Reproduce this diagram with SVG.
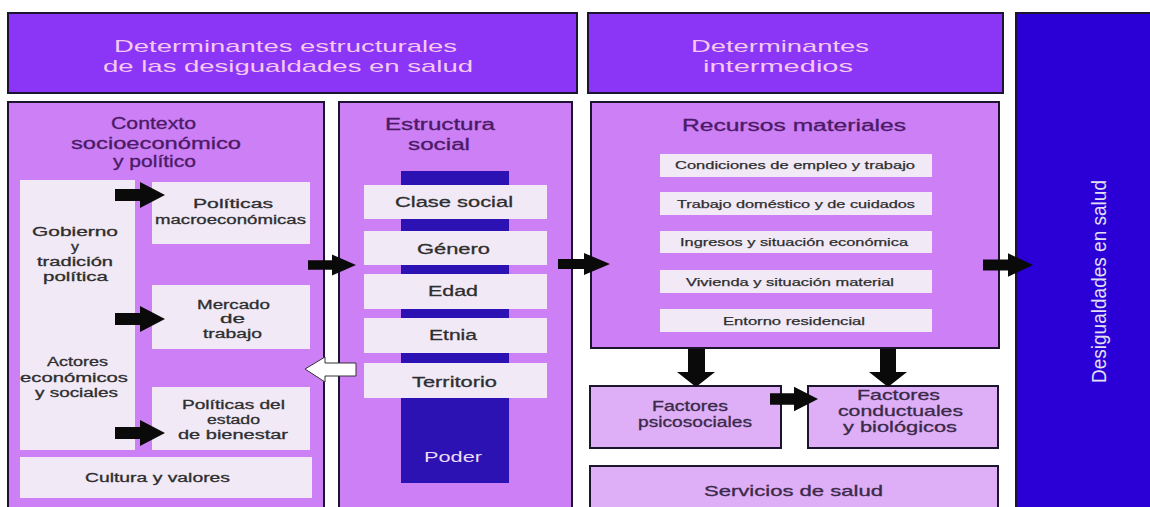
<svg xmlns="http://www.w3.org/2000/svg" width="1150" height="507" viewBox="0 0 1150 507">
<style>
text{font-family:"Liberation Sans",Arial,sans-serif;}
.hdr{fill:#8b36f6;stroke:#1c1530;stroke-width:2;}
.hdrt{fill:#f4c8ef;font-size:17px;}
.panel{fill:#cd7ff6;stroke:#1c1530;stroke-width:2;}
.light{fill:#f1e9f6;}
.sub{fill:#deaef7;stroke:#1c1530;stroke-width:2;}
.ttl{fill:#4a1a66;stroke:#4a1a66;stroke-width:0.3px;font-size:16px;}
.sm{fill:#2e2e2e;stroke:#2e2e2e;stroke-width:0.3px;font-size:12.5px;}
.md{fill:#2e2e2e;stroke:#2e2e2e;stroke-width:0.3px;font-size:15.5px;}
.rs{fill:#2e2e2e;stroke:#2e2e2e;stroke-width:0.25px;font-size:11.5px;}
.fc{fill:#3a2a48;stroke:#3a2a48;stroke-width:0.3px;font-size:14.5px;}
.arr{fill:#0a0a0a;}
</style>
<defs>
<polygon id="ra" points="0,-6 25,-6 25,-13 50,0 25,13 25,6 0,6"/>
</defs>
<rect x="0" y="0" width="1150" height="507" fill="#ffffff"/>

<g id="header-estructurales">
<rect class="hdr" x="8" y="13" width="569" height="80"/>
<text class="hdrt" x="114" y="52" textLength="343" lengthAdjust="spacingAndGlyphs">Determinantes estructurales</text>
<text class="hdrt" x="103" y="72" textLength="370" lengthAdjust="spacingAndGlyphs">de las desigualdades en salud</text>
</g>

<g id="header-intermedios">
<rect class="hdr" x="588" y="13" width="415" height="80"/>
<text class="hdrt" x="691" y="52" textLength="178" lengthAdjust="spacingAndGlyphs">Determinantes</text>
<text class="hdrt" x="703" y="72" textLength="150" lengthAdjust="spacingAndGlyphs">intermedios</text>
</g>

<g id="desigualdades">
<rect x="1016" y="13" width="140" height="500" fill="#2a00d6" stroke="#1c1530" stroke-width="2"/>
<text transform="translate(1106,383) rotate(-90)" x="0" y="0" fill="#e4e0f4" font-size="21" textLength="203" lengthAdjust="spacingAndGlyphs">Desigualdades en salud</text>
</g>

<g id="contexto">
<rect class="panel" x="8" y="102" width="316" height="410"/>
<text class="ttl" x="111" y="129" textLength="85" lengthAdjust="spacingAndGlyphs">Contexto</text>
<text class="ttl" x="71" y="149" textLength="170" lengthAdjust="spacingAndGlyphs">socioeconómico</text>
<text class="ttl" x="113" y="167" textLength="83" lengthAdjust="spacingAndGlyphs">y político</text>
</g>

<g id="gobierno-actores">
<rect class="light" x="20" y="180" width="115" height="270"/>
<text class="sm" x="32" y="236" textLength="86" lengthAdjust="spacingAndGlyphs">Gobierno</text>
<text class="sm" x="71" y="251" textLength="8" lengthAdjust="spacingAndGlyphs">y</text>
<text class="sm" x="37" y="266" textLength="76" lengthAdjust="spacingAndGlyphs">tradición</text>
<text class="sm" x="43" y="281" textLength="65" lengthAdjust="spacingAndGlyphs">política</text>
<text class="sm" x="47" y="366" textLength="61" lengthAdjust="spacingAndGlyphs">Actores</text>
<text class="sm" x="20" y="382" textLength="108" lengthAdjust="spacingAndGlyphs">económicos</text>
<text class="sm" x="35" y="397" textLength="83" lengthAdjust="spacingAndGlyphs">y sociales</text>
</g>

<g id="politicas-macro">
<rect class="light" x="152" y="182" width="158" height="62"/>
<text class="sm" x="193" y="208" textLength="80" lengthAdjust="spacingAndGlyphs">Políticas</text>
<text class="sm" x="155" y="224" textLength="151" lengthAdjust="spacingAndGlyphs">macroeconómicas</text>
</g>

<g id="mercado">
<rect class="light" x="152" y="285" width="158" height="64"/>
<text class="sm" x="197" y="309" textLength="73" lengthAdjust="spacingAndGlyphs">Mercado</text>
<text class="sm" x="220" y="323" textLength="25" lengthAdjust="spacingAndGlyphs">de</text>
<text class="sm" x="203" y="338" textLength="59" lengthAdjust="spacingAndGlyphs">trabajo</text>
</g>

<g id="bienestar">
<rect class="light" x="152" y="387" width="158" height="63"/>
<text class="sm" x="182" y="409" textLength="103" lengthAdjust="spacingAndGlyphs">Políticas del</text>
<text class="sm" x="207" y="424" textLength="53" lengthAdjust="spacingAndGlyphs">estado</text>
<text class="sm" x="178" y="439" textLength="110" lengthAdjust="spacingAndGlyphs">de bienestar</text>
</g>

<g id="cultura">
<rect class="light" x="20" y="457" width="292" height="41"/>
<text class="sm" x="85" y="482" textLength="145" lengthAdjust="spacingAndGlyphs">Cultura y valores</text>
</g>

<g id="estructura">
<rect class="panel" x="339" y="102" width="233" height="410"/>
<text class="ttl" x="385" y="130" textLength="110" lengthAdjust="spacingAndGlyphs">Estructura</text>
<text class="ttl" x="408" y="150" textLength="62" lengthAdjust="spacingAndGlyphs">social</text>
</g>

<g id="poder">
<rect x="401" y="171" width="108" height="312" fill="#2d12b3"/>
<text x="424" y="462" fill="#eadcf4" font-size="14" textLength="58" lengthAdjust="spacingAndGlyphs">Poder</text>
</g>

<g id="clase-social">
<rect class="light" x="364" y="185" width="183" height="34"/>
<text class="md" x="395" y="207" textLength="118" lengthAdjust="spacingAndGlyphs">Clase social</text>
</g>
<g id="genero">
<rect class="light" x="364" y="231" width="183" height="34"/>
<text class="md" x="417" y="254" textLength="73" lengthAdjust="spacingAndGlyphs">Género</text>
</g>
<g id="edad">
<rect class="light" x="364" y="274" width="183" height="35"/>
<text class="md" x="428" y="296" textLength="50" lengthAdjust="spacingAndGlyphs">Edad</text>
</g>
<g id="etnia">
<rect class="light" x="364" y="318" width="183" height="35"/>
<text class="md" x="429" y="340" textLength="48" lengthAdjust="spacingAndGlyphs">Etnia</text>
</g>
<g id="territorio">
<rect class="light" x="364" y="363" width="183" height="35"/>
<text class="md" x="412" y="387" textLength="85" lengthAdjust="spacingAndGlyphs">Territorio</text>
</g>

<g id="recursos">
<rect class="panel" x="591" y="102" width="408" height="246"/>
<text class="ttl" x="682" y="131" font-size="17.5" textLength="224" lengthAdjust="spacingAndGlyphs">Recursos materiales</text>
</g>
<g id="condiciones">
<rect class="light" x="660" y="154" width="272" height="23"/>
<text class="rs" x="675" y="169" textLength="240" lengthAdjust="spacingAndGlyphs">Condiciones de empleo y trabajo</text>
</g>
<g id="domestico">
<rect class="light" x="660" y="192" width="272" height="23"/>
<text class="rs" x="677" y="208" textLength="238" lengthAdjust="spacingAndGlyphs">Trabajo doméstico y de cuidados</text>
</g>
<g id="ingresos">
<rect class="light" x="660" y="231" width="272" height="22"/>
<text class="rs" x="680" y="246" textLength="228" lengthAdjust="spacingAndGlyphs">Ingresos y situación económica</text>
</g>
<g id="vivienda">
<rect class="light" x="660" y="270" width="272" height="23"/>
<text class="rs" x="686" y="286" textLength="208" lengthAdjust="spacingAndGlyphs">Vivienda y situación material</text>
</g>
<g id="entorno">
<rect class="light" x="660" y="309" width="272" height="23"/>
<text class="rs" x="723" y="325" textLength="142" lengthAdjust="spacingAndGlyphs">Entorno residencial</text>
</g>

<g id="psicosociales">
<rect class="sub" x="590" y="386" width="191" height="62"/>
<text class="fc" x="652" y="411" textLength="76" lengthAdjust="spacingAndGlyphs">Factores</text>
<text class="fc" x="638" y="427" textLength="114" lengthAdjust="spacingAndGlyphs">psicosociales</text>
</g>
<g id="conductuales">
<rect class="sub" x="808" y="386" width="190" height="62"/>
<text class="fc" x="857" y="400" textLength="83" lengthAdjust="spacingAndGlyphs">Factores</text>
<text class="fc" x="838" y="416" textLength="125" lengthAdjust="spacingAndGlyphs">conductuales</text>
<text class="fc" x="843" y="432" textLength="114" lengthAdjust="spacingAndGlyphs">y biológicos</text>
</g>
<g id="servicios">
<rect class="sub" x="590" y="466" width="408" height="50"/>
<text class="fc" x="704" y="496" textLength="179" lengthAdjust="spacingAndGlyphs">Servicios de salud</text>
</g>

<g id="connectors">
<use href="#ra" class="arr" transform="translate(115,195)"/>
<use href="#ra" class="arr" transform="translate(115,319)"/>
<use href="#ra" class="arr" transform="translate(115,433)"/>
<use href="#ra" class="arr" transform="translate(308,265) scale(0.96,0.8)"/>
<use href="#ra" class="arr" transform="translate(558,264) scale(1.04,0.85)"/>
<use href="#ra" class="arr" transform="translate(983,265) scale(1,0.9)"/>
<use href="#ra" class="arr" transform="translate(770,399) scale(0.96,0.95)"/>
<polygon class="arr" points="688,349 705,349 705,372 715,372 696,387 677,372 688,372"/>
<polygon class="arr" points="880,349 896,349 896,372 907,372 888,387 869,372 880,372"/>
<polygon points="305,369 325,357 325,363 356,363 356,376 325,376 325,382" fill="#ffffff" stroke="#333333" stroke-width="1"/>
</g>
</svg>
